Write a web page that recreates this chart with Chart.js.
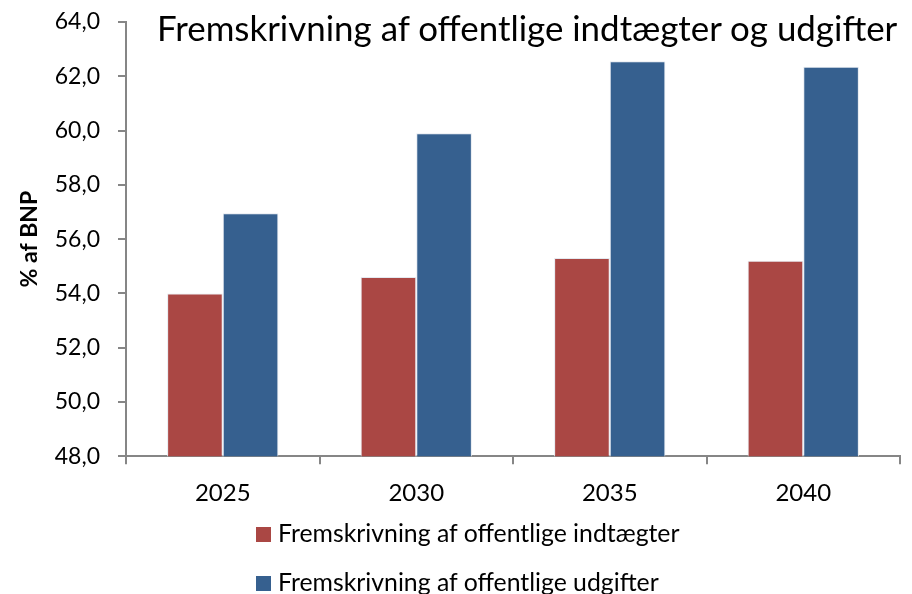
<!DOCTYPE html>
<html>
<head>
<meta charset="utf-8">
<title>Fremskrivning af offentlige indtægter og udgifter</title>
<script src="https://cdn.jsdelivr.net/npm/chart.js@4"></script>
<style>
    body { margin: 0; background: #fff; }
    #wrap { position: relative; width: 912px; height: 594px; font-family: Lato, "Noto Sans", sans-serif; color: #000; }
    #title { position: absolute; left: 157px; top: 7px; font-size: 34.9px; white-space: nowrap; }
    .leg { position: absolute; left: 256px; font-size: 24.8px; white-space: nowrap; }
    .leg span { display: inline-block; width: 15px; height: 15px; margin-right: 7px; vertical-align: 0px; }
</style>
</head>
<body>
<div id="wrap">
    <canvas id="chart" width="912" height="594"></canvas>
    <div id="title">Fremskrivning af offentlige indtægter og udgifter</div>
    <div id="legend"></div>
</div>
<script>
// data
const years = ['2025', '2030', '2035', '2040'];
const indtaegter = [54.0, 54.6, 55.3, 55.2];
const udgifter = [56.95, 59.9, 62.55, 62.35];
const seriesNames = ['Fremskrivning af offentlige indtægter', 'Fremskrivning af offentlige udgifter'];
const seriesColors = ['#AA4744', '#36608F'];

const axisColor = '#868686';

// legend as html rows, left aligned like the original
const legendBox = document.getElementById('legend');
seriesNames.forEach((name, i) => {
    const row = document.createElement('div');
    row.className = 'leg';
    row.style.top = (518 + i * 49) + 'px';
    row.innerHTML = '<span style="background:' + seriesColors[i] + '"></span>' + name;
    legendBox.appendChild(row);
});

new Chart(document.getElementById('chart'), {
    type: 'bar',
    data: {
        labels: years,
        datasets: [
            { label: seriesNames[0], data: indtaegter, backgroundColor: seriesColors[0], borderColor: '#e4e9f0', borderWidth: 1 },
            { label: seriesNames[1], data: udgifter, backgroundColor: seriesColors[1], borderColor: '#e4e9f0', borderWidth: 1 }
        ]
    },
    options: {
        responsive: false,
        animation: false,
        layout: { padding: { left: 10, right: 12, top: 22, bottom: 71 } },
        categoryPercentage: 0.575,
        barPercentage: 1.0,
        plugins: {
            legend: { display: false },
            title: { display: false },
            tooltip: { enabled: false }
        },
        scales: {
            x: {
                grid: { drawOnChartArea: false, offset: true, tickLength: 8, color: axisColor, lineWidth: 2 },
                border: { color: axisColor, width: 2 },
                ticks: { color: '#000', font: { family: 'Lato', size: 24 }, padding: 15 }
            },
            y: {
                min: 48,
                max: 64,
                afterFit: (scale) => {
                    scale.width = 116;
                    scale.paddingTop = 0;
                    scale.paddingBottom = 0;
                },
                grid: { drawOnChartArea: false, tickLength: 8, color: axisColor, lineWidth: 2 },
                border: { color: axisColor, width: 2 },
                ticks: {
                    stepSize: 2,
                    color: '#000',
                    font: { family: 'Lato', size: 23 },
                    padding: 18,
                    callback: (v) => v.toFixed(1).replace('.', ',')
                },
                title: {
                    display: true,
                    text: '% af BNP',
                    color: '#000',
                    font: { family: 'Lato', size: 23, weight: 'bold' },
                    padding: { top: 6, bottom: 0 }
                }
            }
        }
    }
});
</script>
</body>
</html>
